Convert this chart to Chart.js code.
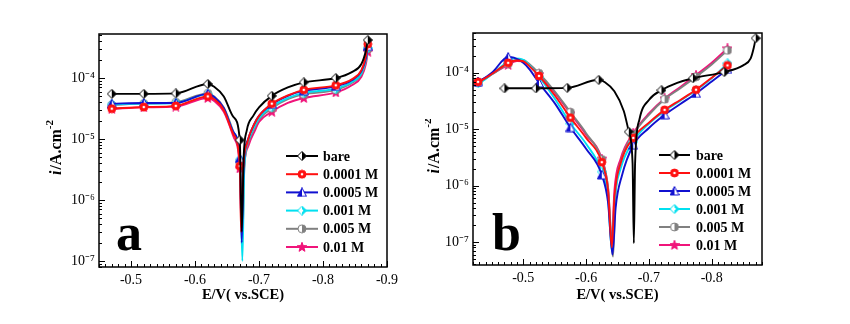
<!DOCTYPE html>
<html>
<head>
<meta charset="utf-8">
<script src="https://cdn.jsdelivr.net/npm/chart.js@4.4.0/dist/chart.umd.min.js"></script>
<style>
body { margin: 0; background: #fff; }
#wrap { position: relative; width: 850px; height: 324px; }
canvas { position: absolute; top: 0; }
#chartA { left: 0; }
#chartB { left: 425px; }
</style>
</head>
<body>
<div id="wrap">
  <canvas id="chartA" width="425" height="324"></canvas>
  <canvas id="chartB" width="425" height="324"></canvas>
</div>
<script>
const seriesLabels = ['bare', '0.0001 M', '0.0005 M', '0.001 M', '0.005 M', '0.01 M'];
const xTicksA = [-0.5, -0.6, -0.7, -0.8, -0.9];
const xTicksB = [-0.5, -0.6, -0.7, -0.8];
const yTicks = [1e-7, 1e-6, 1e-5, 1e-4];

// panel a : [E (V vs SCE), i (A/cm2)]
const bareA = [[-0.47,5.5e-5],[-0.52,5.5e-5],[-0.57,5.6e-5],[-0.62,8.0e-5],[-0.63,7.2e-5],[-0.645,5.0e-5],[-0.66,2.3e-5],[-0.67,9.6e-6],[-0.673,3e-7],[-0.676,5e-6],[-0.681,1.4e-5],[-0.691,2.4e-5],[-0.70,3.3e-5],[-0.72,5.1e-5],[-0.745,7.0e-5],[-0.77,8.5e-5],[-0.82,1.0e-4],[-0.845,1.25e-4],[-0.86,1.7e-4],[-0.867,2.8e-4],[-0.87,4.2e-4]];
const m0001A = [[-0.47,3.15e-5],[-0.52,3.35e-5],[-0.57,3.5e-5],[-0.62,5.0e-5],[-0.63,4.5e-5],[-0.645,3.0e-5],[-0.66,1.2e-5],[-0.67,3.6e-6],[-0.672,3e-7],[-0.675,3e-6],[-0.682,9e-6],[-0.692,1.7e-5],[-0.70,2.4e-5],[-0.72,3.8e-5],[-0.745,5.2e-5],[-0.77,6.4e-5],[-0.82,7.6e-5],[-0.845,9.5e-5],[-0.86,1.35e-4],[-0.867,2.3e-4],[-0.87,3.6e-4]];
const m0005A = [[-0.47,3.8e-5],[-0.52,3.9e-5],[-0.57,3.9e-5],[-0.62,5.5e-5],[-0.63,4.9e-5],[-0.645,3.2e-5],[-0.66,1.3e-5],[-0.67,4.8e-6],[-0.673,2e-7],[-0.676,3.5e-6],[-0.683,1e-5],[-0.693,1.8e-5],[-0.70,2.4e-5],[-0.72,3.7e-5],[-0.745,5.1e-5],[-0.77,6.2e-5],[-0.82,7.3e-5],[-0.845,9.2e-5],[-0.86,1.3e-4],[-0.867,2.1e-4],[-0.87,3.3e-4]];
const m001A = [[-0.47,3.7e-5],[-0.52,3.8e-5],[-0.57,3.9e-5],[-0.62,5.4e-5],[-0.63,4.8e-5],[-0.645,3.1e-5],[-0.66,1.3e-5],[-0.67,4.6e-6],[-0.674,1e-7],[-0.677,3.5e-6],[-0.684,1e-5],[-0.694,1.7e-5],[-0.70,2.2e-5],[-0.72,3.4e-5],[-0.745,4.7e-5],[-0.77,5.7e-5],[-0.82,6.7e-5],[-0.845,8.6e-5],[-0.86,1.2e-4],[-0.867,2.0e-4],[-0.87,3.1e-4]];
const m005A = [[-0.47,3.6e-5],[-0.52,3.8e-5],[-0.57,4.0e-5],[-0.62,5.6e-5],[-0.63,5.0e-5],[-0.645,3.3e-5],[-0.66,1.3e-5],[-0.67,4.0e-6],[-0.674,2e-7],[-0.677,3.2e-6],[-0.684,9e-6],[-0.694,1.6e-5],[-0.70,2.1e-5],[-0.72,3.2e-5],[-0.745,4.5e-5],[-0.77,5.4e-5],[-0.82,6.4e-5],[-0.845,8.3e-5],[-0.86,1.15e-4],[-0.867,1.9e-4],[-0.87,3.0e-4]];
const m01A = [[-0.47,3.1e-5],[-0.52,3.3e-5],[-0.57,3.4e-5],[-0.62,4.7e-5],[-0.63,4.2e-5],[-0.645,2.8e-5],[-0.66,1.1e-5],[-0.67,3.3e-6],[-0.673,3e-7],[-0.676,2.8e-6],[-0.684,8e-6],[-0.694,1.4e-5],[-0.70,1.9e-5],[-0.72,2.8e-5],[-0.745,3.9e-5],[-0.77,4.7e-5],[-0.82,5.8e-5],[-0.845,7.6e-5],[-0.86,1.05e-4],[-0.867,1.7e-4],[-0.87,2.7e-4]];

// panel b
const bareB = [[-0.47,5.3e-5],[-0.52,5.3e-5],[-0.57,5.4e-5],[-0.62,7.5e-5],[-0.63,6.8e-5],[-0.645,4.7e-5],[-0.66,2.1e-5],[-0.668,9e-6],[-0.674,2.5e-6],[-0.676,9.5e-8],[-0.678,2.5e-6],[-0.685,1.5e-5],[-0.70,3.3e-5],[-0.72,4.9e-5],[-0.745,6.6e-5],[-0.77,8.0e-5],[-0.82,1.03e-4],[-0.85,1.35e-4],[-0.862,1.8e-4],[-0.867,2.8e-4],[-0.87,4.1e-4]];
const m0001B = [[-0.42,6.7e-5],[-0.428,6.9e-5],[-0.45,9.5e-5],[-0.476,1.5e-4],[-0.49,1.65e-4],[-0.50,1.6e-4],[-0.51,1.3e-4],[-0.525,8.8e-5],[-0.55,4.0e-5],[-0.575,1.6e-5],[-0.60,7e-6],[-0.625,2.6e-6],[-0.635,8e-7],[-0.641,8e-8],[-0.645,6e-7],[-0.655,2.5e-6],[-0.675,7e-6],[-0.70,1.3e-5],[-0.725,2.2e-5],[-0.75,3.3e-5],[-0.775,5.0e-5],[-0.80,8.2e-5],[-0.825,1.35e-4]];
const m0005B = [[-0.42,6.8e-5],[-0.428,7.0e-5],[-0.45,1.0e-4],[-0.476,1.9e-4],[-0.485,1.85e-4],[-0.50,1.5e-4],[-0.51,1.15e-4],[-0.525,6.6e-5],[-0.55,2.9e-5],[-0.575,1.07e-5],[-0.60,4.5e-6],[-0.625,1.55e-6],[-0.635,5e-7],[-0.642,6e-8],[-0.647,4e-7],[-0.657,1.5e-6],[-0.675,5.2e-6],[-0.70,1.05e-5],[-0.725,1.8e-5],[-0.75,2.8e-5],[-0.775,4.3e-5],[-0.80,7e-5],[-0.825,1.15e-4]];
const m001B = [[-0.42,6.4e-5],[-0.428,6.5e-5],[-0.45,9.5e-5],[-0.476,1.6e-4],[-0.485,1.8e-4],[-0.50,1.7e-4],[-0.51,1.35e-4],[-0.525,8.5e-5],[-0.55,3.5e-5],[-0.575,1.26e-5],[-0.60,5.5e-6],[-0.625,1.76e-6],[-0.635,6e-7],[-0.641,7e-8],[-0.645,5e-7],[-0.655,2e-6],[-0.675,6e-6],[-0.70,1.25e-5],[-0.725,2.1e-5],[-0.75,3.2e-5],[-0.775,4.9e-5],[-0.80,8e-5],[-0.825,1.47e-4]];
const m005B = [[-0.42,6.6e-5],[-0.428,6.8e-5],[-0.45,9.3e-5],[-0.476,1.45e-4],[-0.49,1.7e-4],[-0.50,1.68e-4],[-0.51,1.42e-4],[-0.525,9.8e-5],[-0.55,4.7e-5],[-0.575,2.0e-5],[-0.60,8.5e-6],[-0.625,2.9e-6],[-0.635,9e-7],[-0.643,5.5e-8],[-0.647,7e-7],[-0.657,3e-6],[-0.675,8e-6],[-0.70,1.8e-5],[-0.725,3.4e-5],[-0.75,5.3e-5],[-0.775,8.5e-5],[-0.80,1.4e-4],[-0.825,2.5e-4]];
const m01B = [[-0.42,6.6e-5],[-0.428,7.0e-5],[-0.45,9.5e-5],[-0.476,1.38e-4],[-0.49,1.62e-4],[-0.50,1.6e-4],[-0.51,1.35e-4],[-0.525,9.4e-5],[-0.55,4.5e-5],[-0.575,1.9e-5],[-0.60,8e-6],[-0.625,3.0e-6],[-0.635,9e-7],[-0.641,1e-7],[-0.645,8e-7],[-0.655,3e-6],[-0.675,8.5e-6],[-0.70,1.9e-5],[-0.725,3.5e-5],[-0.75,5.6e-5],[-0.775,9.1e-5],[-0.80,1.5e-4],[-0.825,2.7e-4]];

// potentials that carry a marker
const marksA = [-0.47, -0.52, -0.57, -0.62, -0.67, -0.72, -0.77, -0.82, -0.87];
const marksBareB = [-0.47, -0.52, -0.57, -0.62, -0.668, -0.72, -0.77, -0.82, -0.87];
const marksB = [-0.428, -0.476, -0.525, -0.575, -0.625, -0.675, -0.725, -0.775, -0.825];

const lineColors = ['#000000', '#ff1010', '#1010d0', '#00e0f0', '#808080', '#f0147a'];
const FONT = "'Liberation Serif', 'Times New Roman', serif";

function makeMarker(shape, color) {
    const c = document.createElement('canvas');
    c.width = 10; c.height = 10;
    const g = c.getContext('2d');
    g.lineWidth = 1;
    g.strokeStyle = color;
    const path = () => {
        g.beginPath();
        if (shape === 'diamond') {
            g.moveTo(5, 0.5); g.lineTo(9.5, 5); g.lineTo(5, 9.5); g.lineTo(0.5, 5); g.closePath();
        } else if (shape === 'triangle') {
            g.moveTo(5, 0.5); g.lineTo(9.5, 9); g.lineTo(0.5, 9); g.closePath();
        } else if (shape === 'circle') {
            g.arc(5, 5, 4, 0, Math.PI * 2);
        } else if (shape === 'star') {
            for (let i = 0; i < 10; i++) {
                const r = i % 2 === 0 ? 5 : 2.1;
                const a = -Math.PI / 2 + i * Math.PI / 5;
                g.lineTo(5 + r * Math.cos(a), 5.3 + r * Math.sin(a));
            }
            g.closePath();
        }
    };
    path();
    g.fillStyle = '#fff';
    g.fill();
    g.save();
    path();
    g.clip();
    g.fillStyle = color;
    if (shape === 'star' || color === lineColors[1]) {
        g.fillRect(0, 0, 10, 10);
    } else if (shape === 'triangle') {
        g.fillRect(0, 0, 5, 10);
    } else {
        g.fillRect(5, 0, 5, 10);
    }
    g.restore();
    path();
    g.stroke();
    if (color === lineColors[1] || color === lineColors[3]) {
        g.fillStyle = '#fff';
        g.beginPath(); g.arc(5, 5, 1.3, 0, Math.PI * 2); g.fill();
    }
    return c;
}

const markers = [
    makeMarker('diamond', lineColors[0]),
    makeMarker('circle', lineColors[1]),
    makeMarker('triangle', lineColors[2]),
    makeMarker('diamond', lineColors[3]),
    makeMarker('circle', lineColors[4]),
    makeMarker('star', lineColors[5])
];

const supMap = {'-': '\u207B', '0': '\u2070', '1': '\u00B9', '2': '\u00B2', '3': '\u00B3', '4': '\u2074', '5': '\u2075', '6': '\u2076', '7': '\u2077', '8': '\u2078', '9': '\u2079'};
const sup = n => String(n).split('').map(ch => supMap[ch]).join('');

function decorPlugin(o) {
    return {
        id: 'decor',
        afterDraw(chart) {
            const {ctx, chartArea: a, scales: {x, y}} = chart;
            ctx.save();
            ctx.strokeStyle = '#000';
            ctx.lineWidth = 1;
            ctx.beginPath();
            // inward minor / major ticks
            for (let k = 40; k <= 95; k++) {
                const v = -k / 100;
                if (v < x.min - 1e-9 || v > x.max + 1e-9) continue;
                const px = Math.round(x.getPixelForValue(v)) + 0.5;
                const len = k % 10 === 0 ? 6 : 3;
                ctx.moveTo(px, a.bottom);
                ctx.lineTo(px, a.bottom - len);
            }
            for (let d = -9; d <= -2; d++) {
                for (let m = 1; m <= 9; m++) {
                    const v = m * Math.pow(10, d);
                    if (v < y.min || v > y.max) continue;
                    const py = Math.round(y.getPixelForValue(v)) + 0.5;
                    ctx.moveTo(a.left, py);
                    ctx.lineTo(a.left + (m === 1 ? 6 : 3), py);
                }
            }
            ctx.stroke();
            ctx.lineWidth = 1.5;
            ctx.strokeRect(a.left, a.top, a.right - a.left, a.bottom - a.top);

            // legend
            ctx.font = 'bold 14px ' + FONT;
            ctx.textBaseline = 'middle';
            ctx.textAlign = 'left';
            seriesLabels.forEach((lab, k) => {
                const yy = o.legend.y0 + k * o.legend.dy;
                ctx.strokeStyle = lineColors[k];
                ctx.lineWidth = 2;
                ctx.beginPath();
                ctx.moveTo(o.legend.x1, yy);
                ctx.lineTo(o.legend.x2, yy);
                ctx.stroke();
                const mk = markers[k];
                ctx.drawImage(mk, (o.legend.x1 + o.legend.x2) / 2 - mk.width / 2, yy - mk.height / 2);
                ctx.fillStyle = '#000';
                ctx.fillText(lab, o.legend.tx, yy + 1);
            });

            // panel letter
            ctx.font = 'bold 52px ' + FONT;
            ctx.textBaseline = 'alphabetic';
            ctx.fillStyle = '#000';
            ctx.fillText(o.letter, o.letterX, o.letterY);

            // y axis title  i/A.cm-2
            ctx.translate(o.yTitleX, (a.top + a.bottom) / 2 - 3);
            ctx.rotate(-Math.PI / 2);
            const f1 = 'italic bold 16px ' + FONT;
            const f2 = 'bold 16px ' + FONT;
            const f3 = 'bold 11px ' + FONT;
            ctx.font = f1; const w1 = ctx.measureText('i').width + 1;
            ctx.font = f2; const w2 = ctx.measureText('/A.cm').width;
            ctx.font = f3; const w3 = ctx.measureText('-2').width;
            let cx = -(w1 + w2 + w3) / 2;
            ctx.textBaseline = 'middle';
            ctx.font = f1; ctx.fillText('i', cx, 0); cx += w1;
            ctx.font = f2; ctx.fillText('/A.cm', cx, 0); cx += w2;
            ctx.font = f3; ctx.fillText('-2', cx, -7);
            ctx.restore();
        }
    };
}

function buildChart(id, o) {
    const datasets = o.series.map((s, k) => ({
        label: seriesLabels[k],
        data: s.map(p => ({x: p[0], y: p[1]})),
        borderColor: lineColors[k],
        backgroundColor: lineColors[k],
        borderWidth: 1.9,
        cubicInterpolationMode: 'monotone',
        pointStyle: markers[k],
        pointRadius: c => (o.marks[k].includes(c.raw.x) ? 5 : 0),
        fill: false
    }));
    return new Chart(document.getElementById(id), {
        type: 'line',
        data: {datasets},
        options: {
            responsive: false,
            animation: false,
            events: [],
            layout: {padding: {left: 0, top: o.area.top, right: 425 - o.area.right, bottom: 0}},
            plugins: {legend: {display: false}, tooltip: {enabled: false}},
            scales: {
                x: {
                    type: 'linear',
                    min: o.xMin,
                    max: o.xMax,
                    reverse: true,
                    afterBuildTicks: s => { s.ticks = o.xTicks.map(v => ({value: v})); },
                    afterFit: s => { s.height = 324 - o.area.bottom; },
                    grid: {display: false, drawTicks: false},
                    border: {display: false},
                    ticks: {
                        color: '#000',
                        font: {family: FONT, size: 14},
                        padding: 5,
                        maxRotation: 0,
                        autoSkip: false,
                        callback: v => v.toFixed(1)
                    },
                    title: {
                        display: true,
                        text: 'E/V( vs.SCE)',
                        color: '#000',
                        font: {family: FONT, size: 14.5, weight: 'bold'},
                        padding: {top: 0, bottom: 20}
                    }
                },
                y: {
                    type: 'logarithmic',
                    min: o.yMin,
                    max: o.yMax,
                    afterBuildTicks: s => { s.ticks = yTicks.map(v => ({value: v})); },
                    afterFit: s => { s.width = o.area.left; },
                    grid: {display: false, drawTicks: false},
                    border: {display: false},
                    ticks: {
                        color: '#000',
                        font: {family: FONT, size: 14},
                        padding: 4,
                        callback: v => '10' + sup(Math.round(Math.log10(v)))
                    }
                }
            }
        },
        plugins: [decorPlugin(o)]
    });
}

buildChart('chartA', {
    series: [bareA, m0001A, m0005A, m001A, m005A, m01A],
    marks: [marksA, marksA, marksA, marksA, marksA, marksA],
    xMin: -0.9, xMax: -0.45, xTicks: xTicksA,
    yMin: 7.98e-8, yMax: 5.27e-4,
    area: {left: 99, top: 34, right: 387, bottom: 267},
    legend: {x1: 286, x2: 318, tx: 323, y0: 156, dy: 18.2},
    letter: 'a', letterX: 116, letterY: 250,
    yTitleX: 57
});

buildChart('chartB', {
    series: [bareB, m0001B, m0005B, m001B, m005B, m01B],
    marks: [marksBareB, marksB, marksB, marksB, marksB, marksB],
    xMin: -0.88, xMax: -0.42, xTicks: xTicksB,
    yMin: 3.91e-8, yMax: 5.07e-4,
    area: {left: 48, top: 33, right: 337, bottom: 265},
    legend: {x1: 234, x2: 265, tx: 271, y0: 155, dy: 18},
    letter: 'b', letterX: 67, letterY: 250,
    yTitleX: 10
});
</script>
</body>
</html>
